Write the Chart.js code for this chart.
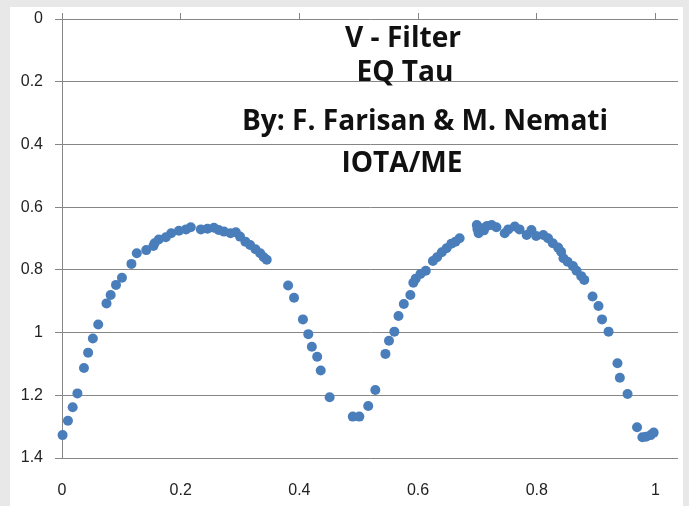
<!DOCTYPE html>
<html>
<head>
<meta charset="utf-8">
<script src="https://cdn.jsdelivr.net/npm/chart.js@4"></script>
<style>
  html, body { margin: 0; padding: 0; background: #e8e8e8; width: 689px; height: 506px; overflow: hidden; }
  #box { position: absolute; left: 10px; top: 7px; width: 673px; height: 499px; background: #fff; }
</style>
</head>
<body>
<div id="box"><canvas id="curva"></canvas></div>
<script>
// fase y magnitud (filtro V)
var fase = [
  0.001, 0.010, 0.018, 0.026, 0.037, 0.044, 0.052, 0.061, 0.075, 0.082,
  0.091, 0.101, 0.117, 0.126, 0.142, 0.154, 0.156, 0.163, 0.175, 0.184,
  0.197, 0.209, 0.217, 0.234, 0.245, 0.256, 0.264, 0.273, 0.284, 0.293,
  0.300, 0.309, 0.317, 0.326, 0.334, 0.340, 0.345, 0.381, 0.391, 0.406,
  0.415, 0.421, 0.430, 0.436, 0.451, 0.490, 0.501, 0.516, 0.528, 0.545,
  0.551, 0.560, 0.567, 0.576, 0.587, 0.592, 0.596, 0.604, 0.613, 0.625,
  0.632, 0.640, 0.648, 0.656, 0.663, 0.670, 0.699, 0.700, 0.702, 0.707,
  0.711, 0.716, 0.724, 0.732, 0.746, 0.752, 0.763, 0.771, 0.783, 0.791,
  0.799, 0.811, 0.819, 0.827, 0.836, 0.841, 0.845, 0.852, 0.861, 0.867,
  0.875, 0.880, 0.894, 0.904, 0.910, 0.921, 0.936, 0.940, 0.953, 0.969,
  0.978, 0.984, 0.992, 0.997
];
var magnitud = [
  1.327, 1.281, 1.238, 1.194, 1.113, 1.064, 1.019, 0.974, 0.907, 0.880,
  0.848, 0.825, 0.781, 0.747, 0.737, 0.724, 0.715, 0.703, 0.696, 0.683,
  0.675, 0.671, 0.664, 0.671, 0.669, 0.666, 0.673, 0.678, 0.683, 0.680,
  0.694, 0.710, 0.721, 0.734, 0.747, 0.760, 0.768, 0.850, 0.889, 0.958,
  1.005, 1.045, 1.077, 1.121, 1.206, 1.268, 1.268, 1.234, 1.183, 1.068,
  1.026, 0.997, 0.947, 0.909, 0.880, 0.841, 0.828, 0.813, 0.803, 0.772,
  0.760, 0.744, 0.731, 0.717, 0.710, 0.699, 0.657, 0.670, 0.683, 0.667,
  0.674, 0.660, 0.657, 0.664, 0.683, 0.671, 0.662, 0.671, 0.689, 0.673,
  0.692, 0.689, 0.699, 0.715, 0.729, 0.742, 0.763, 0.774, 0.788, 0.803,
  0.820, 0.832, 0.885, 0.915, 0.958, 0.997, 1.098, 1.144, 1.196, 1.302,
  1.334, 1.332, 1.327, 1.319
];
var textos = ["V - Filter", "EQ Tau", "By: F. Farisan & M. Nemati", "IOTA/ME"];

var puntos = fase.map(function(f, i) { return { x: f, y: magnitud[i] }; });

var fmt = function(v) { return String(Number(v.toFixed(1))); };

// sin margen extra por las etiquetas de los extremos
var sinPadding = function(s) {
  s.paddingTop = 0; s.paddingBottom = 0; s.paddingLeft = 0; s.paddingRight = 0;
};

// cuadro de texto dentro del grafico
var rotulo = {
  id: "rotulo",
  afterDraw: function(chart) {
    var ctx = chart.ctx;
    var pos = [[393, 40], [395, 74], [415, 123], [392, 165]];
    ctx.save();
    ctx.font = "bold 100px 'Open Sans'";
    var tam = 100 * 366 / ctx.measureText(textos[2]).width;
    ctx.font = "bold " + tam.toFixed(1) + "px 'Open Sans'";
    ctx.fillStyle = "#111";
    ctx.textAlign = "center";
    ctx.textBaseline = "alphabetic";
    textos.forEach(function(t, i) { ctx.fillText(t, pos[i][0], pos[i][1]); });
    ctx.restore();
  }
};

var curva = new Chart(document.querySelector("#curva"), {
  type: "scatter",
  data: {
    datasets: [{
      label: "V",
      data: puntos,
      backgroundColor: "#4a7ebb",
      borderColor: "#4a7ebb",
      borderWidth: 0,
      pointRadius: 5,
      pointHoverRadius: 5,
      clip: false
    }]
  },
  options: {
    responsive: true,
    maintainAspectRatio: false,
    animation: false,
    plugins: { legend: { display: false }, tooltip: { enabled: false } },
    scales: {
      x: {
        type: "linear", position: "bottom", min: 0, max: 1.038,
        ticks: { stepSize: 0.2, includeBounds: false, padding: 15, color: "#222",
                 font: { family: "Liberation Sans", size: 16 }, callback: fmt },
        grid: { display: false },
        border: { display: false },
        afterFit: function(s) { s.height = 48; sinPadding(s); }
      },
      xTop: {
        type: "linear", position: "top", min: 0, max: 1.038,
        ticks: { stepSize: 0.2, includeBounds: false, display: false },
        grid: { drawOnChartArea: false, tickLength: 6, color: "#868686" },
        border: { display: false },
        afterFit: function(s) { s.height = 12; sinPadding(s); }
      },
      y: {
        reverse: true, min: 0, max: 1.4,
        ticks: { stepSize: 0.2, padding: 12, color: "#222",
                 font: { family: "Liberation Sans", size: 16 }, callback: fmt },
        grid: { color: "#868686", tickLength: 7 },
        border: { color: "#868686" },
        afterFit: function(s) { s.width = 52; sinPadding(s); }
      }
    }
  },
  plugins: [rotulo]
});
</script>
</body>
</html>
